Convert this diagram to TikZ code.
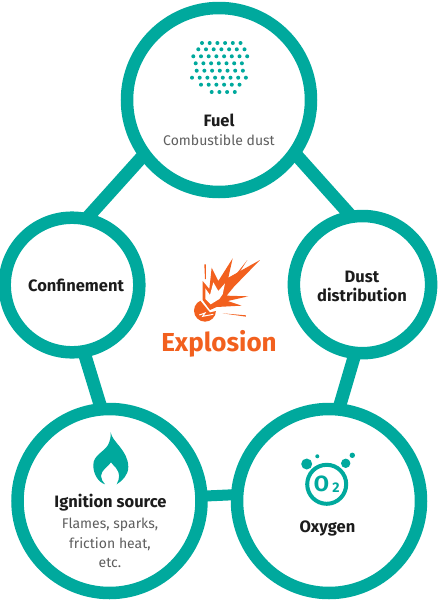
\documentclass[tikz,border=0pt]{standalone}
\usepackage{fontspec}
\setmainfont{Fira Sans}
\definecolor{teal1}{HTML}{00A99D}
\definecolor{orange1}{HTML}{F2601E}
\definecolor{ink}{HTML}{1C1C1C}
\definecolor{soft}{HTML}{5E5E5E}
\begin{document}
\begin{tikzpicture}[x=1pt,y=-1pt,
  ringa/.style={circle,draw=teal1,line width=12.5pt,inner sep=0pt,outer sep=0pt},
  link/.style={draw=teal1,line width=13pt},
  head/.style={font=\fontsize{16.5}{20}\selectfont\bfseries,text=ink,align=center},
  sub/.style={font=\fontsize{14}{19.5}\selectfont,text=soft,align=center}]
\useasboundingbox (0,0) rectangle (439,600);
\node[ringa,minimum size=184pt] (fuel) at (219,100) {};
\node[ringa,minimum size=134.6pt] (conf) at (72,285) {};
\node[ringa,minimum size=137.2pt] (dust) at (362.5,284.6) {};
\node[ringa,minimum size=184pt] (ign) at (109.5,501) {};
\node[ringa,minimum size=184pt] (oxy) at (329,501) {};
\draw[link] (fuel.216.3) -- (conf.78);
\draw[link] (fuel.-35.3) -- (dust.99.9);
\draw[link] (conf.-80.2) -- (ign.95.8);
\draw[link] (dust.264.1) -- (oxy.84.2);
\draw[link,line width=11pt] (ign.3.9) -- (oxy.176.1);
% dust
\foreach \yy/\xs/\n in {43/202/5,49.3/198.3/6,56.3/193.3/7,63.3/195.7/6,70.7/196.7/6,77.7/192/7,84.7/201/5,92/211.7/3}{
  \foreach \i in {0,...,\n}{\fill[teal1] (\xs+7.7*\i,\yy) circle (2pt);}
}
\node[head] (tf) at (219,120) {Fuel};
\node[sub] (tfs) at (219,140) {Combustible dust};
\node[head] (tc) at (76,285) {Confinement};
\node[head] (td) at (362,286) {Dust\\[-1pt]distribution};
\node[head] (ti) at (110.5,503) {Ignition source};
\node[sub] (tis) at (110,543) {Flames, sparks,\\friction heat,\\etc.};
\node[head] (to) at (327.5,528) {Oxygen};
% flame
\fill[teal1] (110.7,432.3) .. controls (112,442) and (128,450) .. (128.3,466.7)
  .. controls (128.5,475) and (122,481) .. (116.7,484.3)
  .. controls (120,478) and (120,473) .. (116,468)
  .. controls (114,465.5) and (112,464) .. (111,462.3)
  .. controls (109,466) and (101,470) .. (101,476)
  .. controls (101,479) and (103,482) .. (105,484.3)
  .. controls (98,482) and (93.3,474) .. (93.3,465)
  .. controls (93.3,455) and (104,452) .. (108,445)
  .. controls (110,441) and (111,437) .. (110.7,432.3) -- cycle;
% oxygen icon
\draw[teal1,line width=4pt] (326.7,484.3) circle (19.5pt);
\fill[teal1] (306.7,464) circle (5.5pt) (317.3,456.3) circle (2pt) (345.7,463.3) circle (4.7pt) (352.3,455.3) circle (2.7pt);
\node[text=teal1,font=\fontsize{22}{22}\selectfont\bfseries,inner sep=0pt] (o2a) at (321.5,484) {O};
\node[text=teal1,font=\fontsize{14}{14}\selectfont\bfseries,inner sep=0pt] (o2b) at (336,487.5) {2};
% explosion
\begin{scope}[shift={(160,255)},x=0.3333pt,y=-0.3333pt]
\fill[orange1] (135,167) circle (33);
\fill[white] (120,90) -- (120,135) -- (150,172) -- (180,165) -- (260,100) -- cycle;
\fill[orange1] (128,135) -- (128,78) -- (148,102) -- (155,38) -- (175,78) -- (218,10) -- (205,68) -- (300,15) -- (222,95) -- (200,122) -- (265,124) -- (203,138) -- (245,152) -- (170,156) -- (150,165) -- cycle;
\fill[white] (136,132) -- (136,100) -- (150,120) -- (160,82) -- (175,108) -- (195,85) -- (188,118) -- (178,132) -- (152,148) -- cycle;
\fill[orange1] (133,28) -- (138,28) -- (138,72) -- (135,72) -- cycle;
\fill[orange1] (262,15) -- (225,62) -- (232,62) -- cycle;
\fill[orange1] (188,175) -- (258,181) -- (258,185) -- cycle;
\draw[white,line width=1pt] (118,180) -- (135,174) -- (128,184) -- (160,178);
\end{scope}
\node[text=orange1,font=\fontsize{26}{28}\selectfont\bfseries] (tex) at (219,344) {Explosion};
\end{tikzpicture}
\end{document}
